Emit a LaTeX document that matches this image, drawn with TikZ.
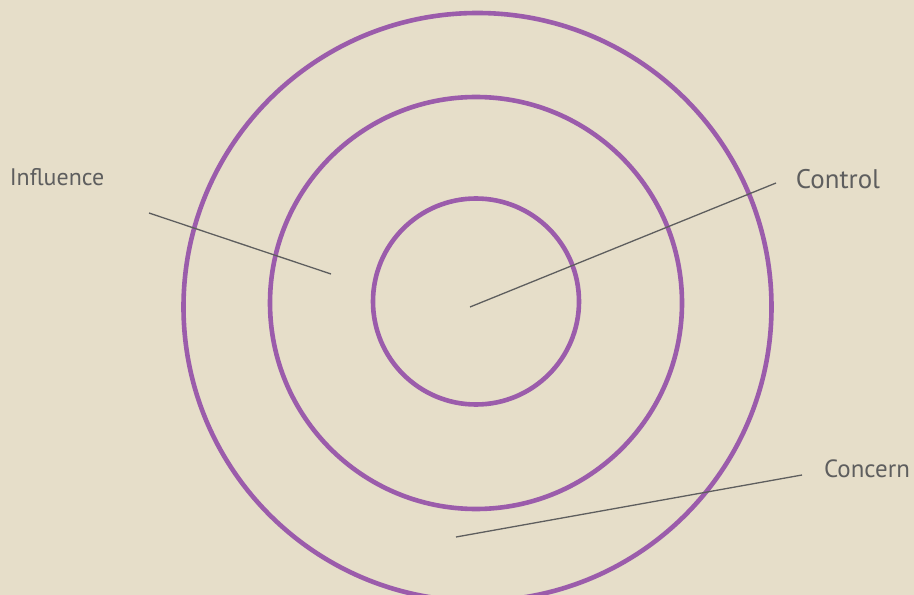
\documentclass[tikz,border=0pt]{standalone}
\usepackage{fontspec}
\setmainfont{PT Sans}
\definecolor{bg}{HTML}{E6DEC9}
\definecolor{ring}{HTML}{9B5CAB}
\definecolor{ink}{HTML}{5E5E5E}
\begin{document}
\begin{tikzpicture}[x=1bp,y=-1bp,
  ringline/.style={draw=ring,line width=4.6bp},
  pointer/.style={draw=ink,line width=1.3bp},
  lbl/.style={text=ink,inner sep=0pt,anchor=base}]
\fill[bg] (0,0) rectangle (914,595);
\useasboundingbox (0,0) rectangle (914,595);
\draw[ringline] (477.5,307) circle[radius=294];
\draw[ringline] (476,303) circle[radius=206];
\draw[ringline] (476,301.5) circle[radius=103];
\node[lbl,font=\fontsize{24}{28}\selectfont] (infl) at (57,186) {Influence};
\node[lbl,font=\fontsize{27}{32}\selectfont] (ctrl) at (838,189) {Control};
\node[lbl,font=\fontsize{25}{30}\selectfont] (conc) at (867,477) {Concern};
\coordinate (i1) at (149,213);
\coordinate (i2) at (331,274);
\coordinate (c1) at (776,183);
\coordinate (c2) at (470,307);
\coordinate (k1) at (802,475);
\coordinate (k2) at (456,537);
\draw[pointer] (i1) -- (i2);
\draw[pointer] (c1) -- (c2);
\draw[pointer] (k1) -- (k2);
\end{tikzpicture}
\end{document}
